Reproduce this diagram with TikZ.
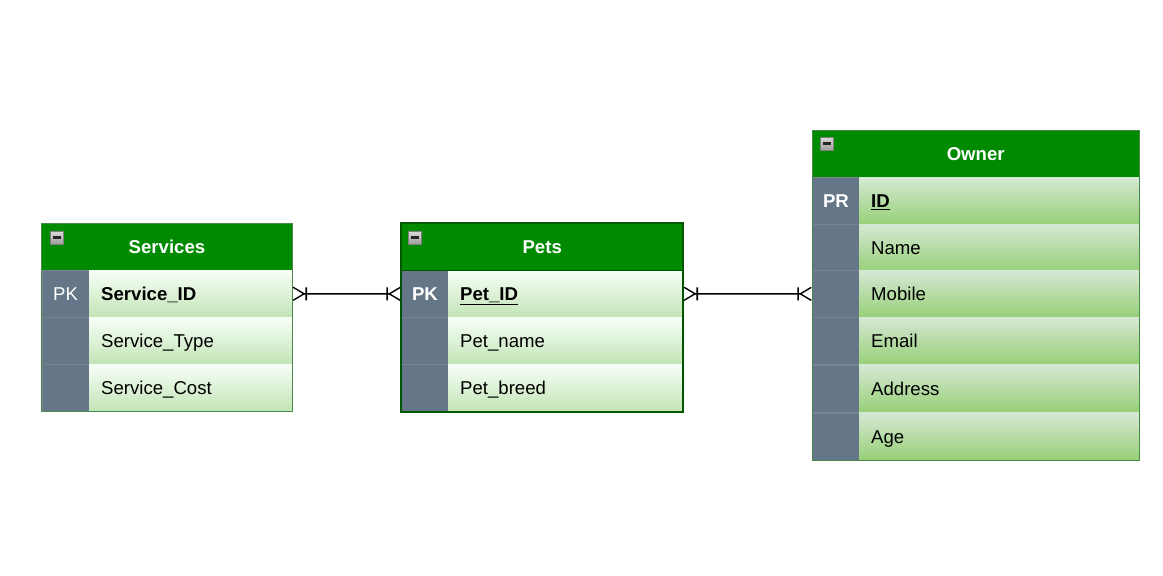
\documentclass[tikz,border=0pt]{standalone}
\usepackage{fontspec}
\setmainfont{Liberation Sans}
\usepackage{tikz}
\usetikzlibrary{positioning, arrows.meta}
\definecolor{headgreen}{HTML}{008A00}
\definecolor{darkgreen}{HTML}{005700}
\definecolor{midgreen}{HTML}{4A8A4A}
\definecolor{keygray}{HTML}{647687}
\definecolor{keyline}{HTML}{76868F}
\definecolor{palegreen}{HTML}{D5E8D4}
\definecolor{softgreen}{HTML}{97D077}
\definecolor{lightgreen}{HTML}{C2E4B5}
\newcommand{\keyname}[1]{\textbf{\underline{\mbox{#1}}}}
\tikzset{
  headcell/.style={fill=headgreen, text=white, font=\fontsize{18.6}{22}\selectfont\bfseries,
    anchor=north west, minimum width=#1, minimum height=47pt, inner sep=0pt, text height=15.5pt, text depth=2pt},
  keycell/.style={fill=keygray, draw=keyline, line width=0.5pt, text=white, anchor=north west,
    minimum width=47.5pt, minimum height=47.2pt, inner sep=0pt, text height=15.5pt, text depth=2pt,
    font=\fontsize{18.6}{22}\selectfont},
  rowcell/.style={anchor=north west, text width=#1-24pt, inner xsep=12pt, inner ysep=0pt, align=left,
    minimum height=47.2pt, text height=15.5pt, text depth=2pt, text=black,
    font=\fontsize{18.6}{22}\selectfont},
  whiterow/.style={top color=white!97!green, bottom color=lightgreen},
  greenrow/.style={top color=palegreen, bottom color=softgreen},
  iconbox/.style={draw=gray, line width=1pt, top color=gray!30, bottom color=gray!75,
    anchor=north west, minimum size=13pt, inner sep=0pt},
  minusbar/.style={line width=2.2pt, black!85},
  crowline/.style={line width=1.5pt, black,
    {Straight Barb[reversed,length=11pt,width=13pt,sep=0pt,line width=1.4pt]Bar[width=13pt,length=0pt,sep=0pt,line width=1.6pt]}-%
    {Bar[width=13pt,length=0pt,sep=0pt,line width=1.6pt]Straight Barb[reversed,length=11pt,width=13pt,sep=0pt,line width=1.4pt]}}
}

\begin{document}
\begin{tikzpicture}[x=1pt, y=-1pt]
  \useasboundingbox (0,0) rectangle (1163,576);

  \node[headcell=250.5pt] (shead) at (41.5, 223) {Services};
  \foreach \i/\y/\k/\w in {1/270/PK/\textbf{Service\_ID}, 2/317//Service\_Type, 3/364//Service\_Cost} {
    \node[keycell] (skey\i) at (41.5, \y) {\k};
    \node[rowcell=203pt, whiterow] (srow\i) at (89, \y) {\w};
  }
  \node[iconbox] (sicon) at (49.5, 230.5) {};
  \draw[minusbar] ([xshift=-4pt]sicon.center) -- ([xshift=4pt]sicon.center);
  \draw[midgreen, line width=1pt] (shead.north west) rectangle (srow3.south east);

  \node[headcell=282pt] (phead) at (401, 223) {Pets};
  \foreach \i/\y/\k/\w in {1/270/\textbf{PK}/\keyname{Pet\_ID}, 2/317//Pet\_name, 3/364//Pet\_breed} {
    \node[keycell] (pkey\i) at (401, \y) {\k};
    \node[rowcell=235pt, whiterow] (prow\i) at (448, \y) {\w};
  }
  \node[iconbox] (picon) at (408, 230.5) {};
  \draw[minusbar] ([xshift=-4pt]picon.center) -- ([xshift=4pt]picon.center);
  \draw[darkgreen, line width=2pt] (phead.north west) rectangle (prow3.south east);
  \draw[darkgreen, line width=1pt] (phead.south west) -- (phead.south east);

  \node[headcell=327pt] (ohead) at (812, 130) {Owner};
  \foreach \i/\y/\k/\w in {1/177/\textbf{PR}/\keyname{ID}, 2/224//Name, 3/270//Mobile,
                           4/317//Email, 5/364.5//Address, 6/412.5//Age} {
    \node[keycell] (okey\i) at (812, \y) {\k};
    \node[rowcell=280pt, greenrow] (orow\i) at (859, \y) {\w};
  }
  \node[iconbox] (oicon) at (819.5, 136.5) {};
  \draw[minusbar] ([xshift=-4pt]oicon.center) -- ([xshift=4pt]oicon.center);
  \draw[midgreen, line width=1pt] (ohead.north west) rectangle (orow6.south east);

  \draw[crowline] (srow1.east) -- (pkey1.west);
  \draw[crowline] (prow1.east) -- (okey3.west);
\end{tikzpicture}
\end{document}
